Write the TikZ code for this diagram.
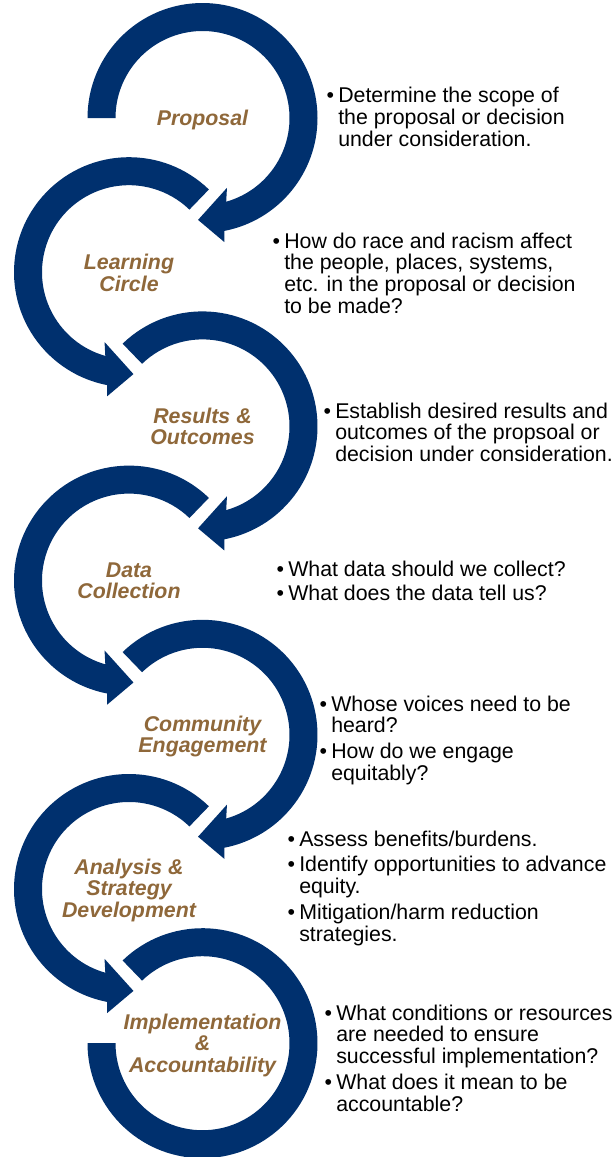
\documentclass[tikz,border=0pt]{standalone}
\usepackage{fontspec}
\setmainfont{Liberation Sans}
\definecolor{navy}{RGB}{0,48,110}
\definecolor{tanlabel}{RGB}{143,104,58}
\newcommand{\cwarrow}[3]{%
  \begin{scope}[shift={(#1,#2)}]
    \fill[ring] (#3:115) arc[start angle=#3,end angle=-79,radius=115]
      -- (-80:126) -- (-92.5:102) -- (-70.7:74) -- (-74.2:87)
      arc[start angle=-74.2,end angle=#3,radius=87] -- cycle;
  \end{scope}}
\newcommand{\ccwarrow}[2]{%
  \begin{scope}[shift={(#1,#2)}]
    \fill[ring] (46:115) arc[start angle=46,end angle=259,radius=115]
      -- (260:126) -- (272.5:102) -- (250.7:74) -- (254.2:87)
      arc[start angle=254.2,end angle=46,radius=87] -- cycle;
  \end{scope}}
\newcommand{\bodytext}{\fontsize{16}{16}\selectfont}
\newcommand{\bul}{\llap{•\hspace{3.2pt}}}
\begin{document}
\begin{tikzpicture}[x=0.75pt,y=0.75pt,
  ring/.style={fill=navy},
  lab/.style={anchor=base,inner sep=0pt,text=tanlabel,font=\fontsize{16}{16}\selectfont\bfseries\itshape},
  desc/.style={anchor=base west,inner sep=0pt,text=black,font=\bodytext}]
\useasboundingbox (0,0) rectangle (616,-1157);
\fill[white] (0,0) rectangle (616,-1157);

% circular arrows
\cwarrow{202.5}{-118}{180}
\ccwarrow{129}{-272.2}
\cwarrow{202.5}{-426.4}{134}
\ccwarrow{129}{-580.6}
\cwarrow{202.5}{-734.8}{134}
\ccwarrow{129}{-889}
\begin{scope}[shift={(202.5,-1043.2)}]
  \fill[ring] (134:115) arc[start angle=134,end angle=-180,radius=115]
    -- (-180:87) arc[start angle=-180,end angle=134,radius=87] -- cycle;
\end{scope}

% labels
\node[lab] (l1) at (202.5,-125) {Proposal};
\node[lab] (l2) at (129,-269.5) {\begin{tabular}[t]{@{}c@{}}Learning\\Circle\end{tabular}};
\node[lab] (l3) at (202.5,-423) {\begin{tabular}[t]{@{}c@{}}Results \&\\Outcomes\end{tabular}};
\node[lab] (l4) at (129,-577) {\begin{tabular}[t]{@{}c@{}}Data\\Collection\end{tabular}};
\node[lab] (l5) at (202.5,-731) {\begin{tabular}[t]{@{}c@{}}Community\\Engagement\end{tabular}};
\node[lab] (l6) at (129,-874) {\begin{tabular}[t]{@{}c@{}}Analysis \&\\Strategy\\Development\end{tabular}};
\node[lab] (l7) at (202.5,-1029.3) {\begin{tabular}[t]{@{}c@{}}Implementation\\\&\\Accountability\end{tabular}};

% descriptions
\node[desc] (d1) at (338,-102.7) {\begin{tabular}[t]{@{}l@{}}\bul Determine the scope of\\the proposal or decision\\under consideration.\end{tabular}};
\node[desc] (d2) at (284,-248) {\begin{tabular}[t]{@{}l@{}}\bul How do race and racism affect\\the people, places, systems,\\etc. in the proposal or decision\\to be made?\end{tabular}};
\node[desc] (d3) at (335,-418) {\begin{tabular}[t]{@{}l@{}}\bul Establish desired results and\\outcomes of the propsoal or\\decision under consideration.\end{tabular}};
\node[desc] (d4) at (288,-576.7) {\begin{tabular}[t]{@{}l@{}}\bul What data should we collect?\\[1.7pt]\bul What does the data tell us?\end{tabular}};
\node[desc] (d5) at (331,-711) {\begin{tabular}[t]{@{}l@{}}\bul Whose voices need to be\\heard?\\[3pt]\bul How do we engage\\equitably?\end{tabular}};
\node[desc] (d6) at (299,-846) {\begin{tabular}[t]{@{}l@{}}\bul Assess benefits/burdens.\\[3pt]\bul Identify opportunities to advance\\equity.\\[3pt]\bul Mitigation/harm reduction\\strategies.\end{tabular}};
\node[desc] (d7) at (336,-1020) {\begin{tabular}[t]{@{}l@{}}\bul What conditions or resources\\are needed to ensure\\successful implementation?\\[3pt]\bul What does it mean to be\\accountable?\end{tabular}};
\end{tikzpicture}
\end{document}
